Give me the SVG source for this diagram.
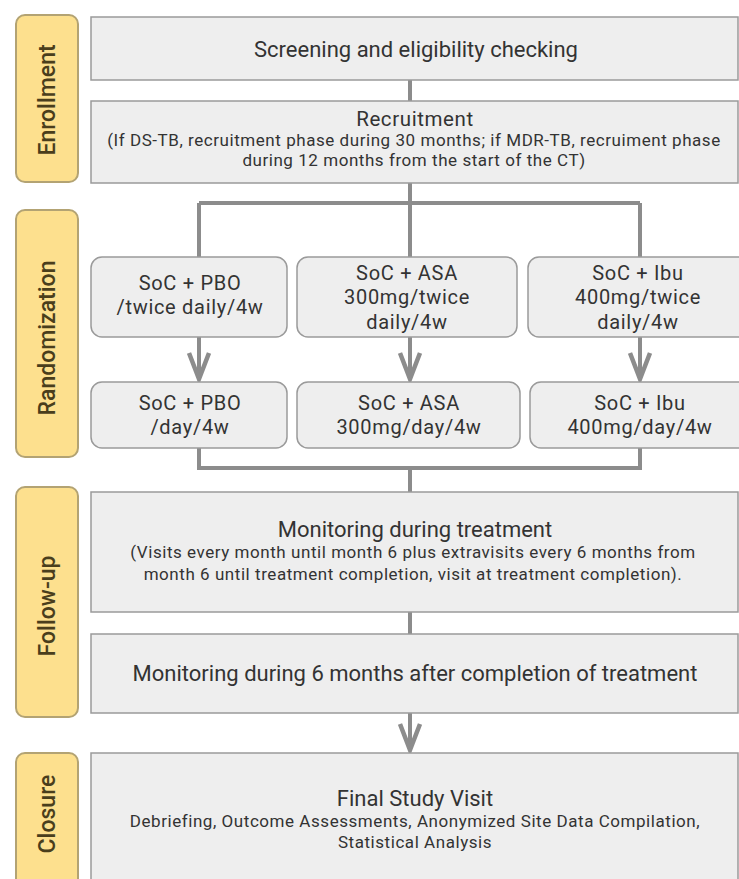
<svg xmlns="http://www.w3.org/2000/svg" width="739" height="879" viewBox="0 0 739 879">
<style>
.bg{fill:#ffffff}
.lab rect{fill:#fde08e;stroke:#b3a373;stroke-width:2}
.lab text{font-family:Roboto,"Liberation Sans",sans-serif;font-weight:500;font-size:23px;fill:#4a3e1c;text-anchor:middle}
.box{fill:#eeeeee;stroke:#9a9a9a;stroke-width:1.5}
.t{font-family:Roboto,"Liberation Sans",sans-serif;fill:#333333;text-anchor:middle}
.h{font-size:22px}
.h2{font-size:20.5px;letter-spacing:0.6px}
.s{font-size:17px;letter-spacing:0.55px}
.r{font-size:20px;letter-spacing:0.7px}
.con{fill:none;stroke:#8c8c8c;stroke-width:4}
.head{fill:none;stroke:#8c8c8c;stroke-width:4.5;stroke-linejoin:miter}
</style>
<rect class="bg" x="0" y="0" width="739" height="879"/>

<g id="connectors">
<path class="con" d="M410,80 V101"/>
<path class="con" d="M410,183 V203 M199,203 H640 M199,203 V257 M410,203 V257 M640,203 V257"/>
<path class="con" d="M199,337 V378"/>
<path class="head" d="M189,353 L199,379 L209,353"/>
<path class="con" d="M410,337 V378"/>
<path class="head" d="M400,353 L410,379 L420,353"/>
<path class="con" d="M640,337 V378"/>
<path class="head" d="M630,353 L640,379 L650,353"/>
<path class="con" d="M199,448 V468 H640 V448 M410,468 V492"/>
<path class="con" d="M410,612 V634"/>
<path class="con" d="M410,713 V749"/>
<path class="head" d="M400,724 L410,750 L420,724"/>
</g>

<g id="lab-enrollment" class="lab"><rect x="16" y="15" width="62" height="167" rx="9"/><text transform="translate(55,100) rotate(-90)">Enrollment</text></g>
<g id="lab-randomization" class="lab"><rect x="16" y="210" width="62" height="247" rx="9"/><text transform="translate(55,338) rotate(-90)">Randomization</text></g>
<g id="lab-followup" class="lab"><rect x="16" y="487" width="62" height="230" rx="9"/><text transform="translate(55,606) rotate(-90)">Follow-up</text></g>
<g id="lab-closure" class="lab"><rect x="16" y="753" width="62" height="140" rx="9"/><text transform="translate(55,814) rotate(-90)">Closure</text></g>

<g id="screening"><rect class="box" x="91" y="17" width="647" height="63"/><text class="t h" x="416" y="57">Screening and eligibility checking</text></g>
<g id="recruitment"><rect class="box" x="91" y="101" width="647" height="82"/>
<text class="t h2" x="415" y="126">Recruitment</text>
<text class="t s" x="414" y="146">(If DS-TB, recruitment phase during 30 months; if MDR-TB, recruiment phase</text>
<text class="t s" x="414" y="166">during 12 months from the start of the CT)</text></g>

<g id="pbo1"><rect class="box" x="91" y="257" width="196" height="80" rx="11"/><text class="t r" x="190" y="290">SoC + PBO</text><text class="t r" x="190" y="314">/twice daily/4w</text></g>
<g id="asa1"><rect class="box" x="297" y="257" width="220" height="80" rx="11"/><text class="t r" x="407" y="280">SoC + ASA</text><text class="t r" x="407" y="304">300mg/twice</text><text class="t r" x="407" y="329">daily/4w</text></g>
<g id="ibu1"><rect class="box" x="528" y="257" width="224" height="80" rx="11"/><text class="t r" x="638" y="280">SoC + Ibu</text><text class="t r" x="638" y="304">400mg/twice</text><text class="t r" x="638" y="329">daily/4w</text></g>

<g id="pbo2"><rect class="box" x="91" y="382" width="196" height="66" rx="11"/><text class="t r" x="190" y="410">SoC + PBO</text><text class="t r" x="190" y="434">/day/4w</text></g>
<g id="asa2"><rect class="box" x="297" y="382" width="223" height="66" rx="11"/><text class="t r" x="409" y="410">SoC + ASA</text><text class="t r" x="409" y="434">300mg/day/4w</text></g>
<g id="ibu2"><rect class="box" x="530" y="382" width="222" height="66" rx="11"/><text class="t r" x="640" y="410">SoC + Ibu</text><text class="t r" x="640" y="434">400mg/day/4w</text></g>

<g id="monitoring"><rect class="box" x="91" y="492" width="647" height="120"/>
<text class="t h" x="415" y="537">Monitoring during treatment</text>
<text class="t s" x="413" y="558">(Visits every month until month 6 plus extravisits every 6 months from</text>
<text class="t s" x="413" y="580">month 6 until treatment completion, visit at treatment completion).</text></g>
<g id="monitoring6"><rect class="box" x="91" y="634" width="647" height="79"/>
<text class="t h" x="415" y="681">Monitoring during 6 months after completion of treatment</text></g>

<g id="final"><rect class="box" x="91" y="753" width="647" height="140"/>
<text class="t h" x="415" y="806">Final Study Visit</text>
<text class="t s" x="415" y="827">Debriefing, Outcome Assessments, Anonymized Site Data Compilation,</text>
<text class="t s" x="415" y="848">Statistical Analysis</text></g>
</svg>
